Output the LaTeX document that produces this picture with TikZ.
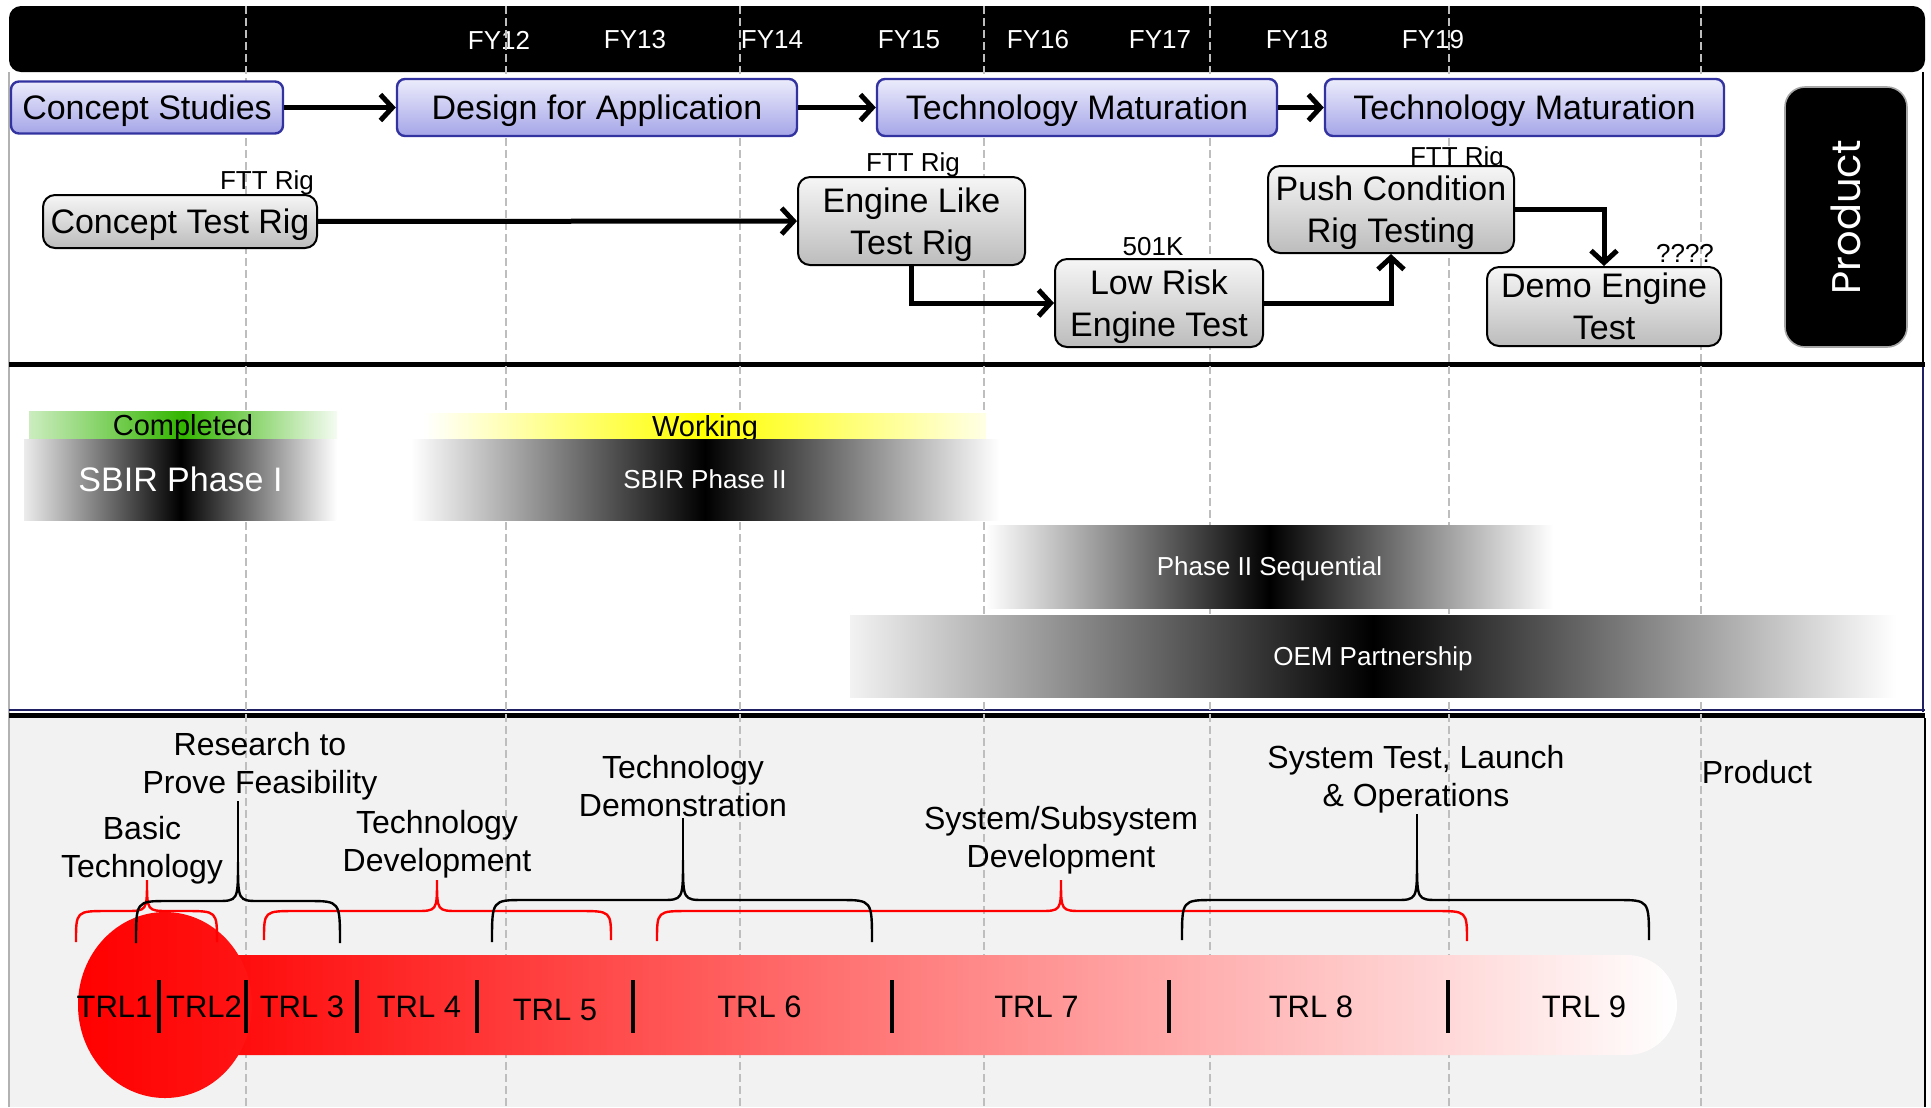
\documentclass[tikz,border=0pt]{standalone}
\usepackage{fontspec}
\setmainfont{Liberation Sans}
\newfontfamily\productfont{Poppins}
\usetikzlibrary{arrows.meta}
\usetikzlibrary{shapes}

\definecolor{phaseline}{RGB}{50,50,160}
\definecolor{phasetop}{RGB}{236,236,252}
\definecolor{phasebot}{RGB}{165,165,232}
\definecolor{rigtop}{RGB}{246,246,246}
\definecolor{rigbot}{RGB}{188,188,188}
\definecolor{navy}{RGB}{32,32,100}
\definecolor{panel}{RGB}{242,242,242}
\definecolor{gridgray}{RGB}{190,190,190}
\definecolor{donegreen}{RGB}{51,181,0}

\tikzstyle{phase}=[rectangle,rounded corners=2pt,draw=phaseline,line width=0.6pt,top color=phasetop,bottom color=phasebot,inner sep=0pt,text depth=0pt,font=\fontsize{8.5pt}{10.5pt}\selectfont]
\tikzstyle{rig}=[rectangle,rounded corners=3pt,draw=black,line width=0.5pt,top color=rigtop,bottom color=rigbot,inner sep=0pt,text depth=0pt,align=center,font=\fontsize{8.5pt}{10.5pt}\selectfont]
\tikzstyle{endbox}=[rectangle,rounded corners=5pt,draw=gray!70,fill=black,text=white,inner sep=0pt,font=\productfont\fontsize{10pt}{12pt}\selectfont]
\tikzstyle{tag}=[inner sep=0pt,font=\fontsize{6.5pt}{7.5pt}\selectfont]
\tikzstyle{year}=[inner sep=0pt,text=white,font=\fontsize{6.5pt}{7.5pt}\selectfont]
\tikzstyle{band}=[rectangle,inner sep=0pt,text depth=0pt,text=white,font=\fontsize{6.5pt}{7.5pt}\selectfont]
\tikzstyle{status}=[rectangle,inner sep=0pt,text depth=0pt,font=\fontsize{7.25pt}{8pt}\selectfont]
\tikzstyle{stage}=[inner sep=0pt,align=center,font=\fontsize{8pt}{9.5pt}\selectfont]
\tikzstyle{trl}=[inner sep=0pt,font=\fontsize{7.75pt}{9pt}\selectfont]
\tikzstyle{trlsep}=[line width=1pt]
\tikzstyle{gridline}=[gridgray,line width=0.5pt,dash pattern=on 2pt off 1pt]
\tikzstyle{bracer}=[red,line width=0.6pt]
\tikzstyle{bracek}=[black,line width=0.6pt]
\tikzstyle{arrow}=[-{Straight Barb[length=3pt,width=6.5pt]},line width=1.25pt]

% curly brace: style, left x, tip x, right x, foot y, flat y, tip y
\newcommand{\trlbrace}[7]{%
  \draw[#1] (#2,#5) .. controls (#2,#6) .. ({#2+32},#6) -- ({#3-22},#6)
    .. controls (#3,#6) .. (#3,#7) .. controls (#3,#6) .. ({#3+22},#6)
    -- ({#4-32},#6) .. controls (#4,#6) .. (#4,#5);}

\begin{document}
\begin{tikzpicture}[x=0.25pt,y=-0.25pt]
    \useasboundingbox (0,0) rectangle (1931,1107);
    \fill[panel] (9,718) rectangle (1925,1107);
    \fill[black,rounded corners=3pt] (9,6) rectangle (1925,72);
    \foreach \x/\yr in {499/12,635/13,772/14,909/15,1038/16,1160/17,1297/18,1433/19}
      \node[year] (fy\yr) at (\x,40) {FY\yr};
    % frames
    \draw[gray!60,line width=0.4pt] (9,72) -- (9,1107);
    \draw[line width=0.5pt] (1923,72) -- (1923,364);
    \draw[navy,line width=0.6pt] (1923,364) -- (1923,712);
    \draw[line width=0.5pt] (1925,718) -- (1925,1107);
    \draw[line width=1.25pt] (9,364.5) -- (1925,364.5);
    \draw[navy,line width=0.5pt] (9,710) -- (1925,710);
    \draw[line width=1.25pt] (9,715.5) -- (1925,715.5);
    \foreach \x in {246,506,740,984,1210,1449,1701}
      \draw[gridline] (\x,6) -- (\x,1107);

    % programme phases
    \node[phase,minimum width=68pt,minimum height=13pt] at (147,107.5) (cs) {Concept Studies};
    \node[phase,minimum width=100pt,minimum height=14.25pt] at (597,107.5) (dfa) {Design for Application};
    \node[phase,minimum width=100pt,minimum height=14.25pt] at (1077,107.5) (tm1) {Technology Maturation};
    \node[phase,minimum width=99.75pt,minimum height=14.25pt] at (1524.5,107.5) (tm2) {Technology Maturation};
    \draw[arrow] (cs) -- (dfa);
    \draw[arrow] (dfa) -- (tm1);
    \draw[arrow] (tm1) -- (tm2);

    % rigs and tests
    \node[tag] at (267,183) (ftt1) {FTT Rig};
    \node[tag] at (913,165) (ftt2) {FTT Rig};
    \node[tag] at (1457,159) (ftt3) {FTT Rig};
    \node[tag] at (1153,247) (cost) {501K};
    \node[tag] at (1685,253) (tbd) {????};
    \node[rig,minimum width=68.5pt,minimum height=13.25pt] at (180,221.5) (ctr) {Concept Test Rig};
    \node[rig,minimum width=56.75pt,minimum height=22pt] at (911.5,221) (elr) {Engine Like\\Test Rig};
    \node[rig,minimum width=52pt,minimum height=22pt] at (1159,303) (lret) {Low Risk\\Engine Test};
    \node[rig,minimum width=61.5pt,minimum height=21.75pt] at (1391,209.5) (pcrt) {Push Condition\\Rig Testing};
    \node[rig,minimum width=58.5pt,minimum height=19.75pt] at (1604,306.5) (det) {Demo Engine\\Test};
    \draw[arrow] (ctr) -- (elr);
    \draw[arrow] (elr.south) |- (lret.west);
    \draw[arrow] (lret.east) -| (pcrt.south);
    \draw[arrow] (pcrt.east) -| (det.north);
    \node[endbox,rotate=90,minimum width=65pt,minimum height=30.5pt] at (1846,217) (prod) {Product};

    % funding
    \node[status,minimum width=77pt,minimum height=7pt,left color=donegreen!25,right color=donegreen!5,middle color=donegreen] at (183,425) (done) {Completed};
    \node[band,minimum width=78.25pt,minimum height=20.25pt,left color=gray!15,right color=white,middle color=black,font=\fontsize{8.5pt}{10pt}\selectfont] at (180.5,479.5) (sbir1) {SBIR Phase I};
    \node[status,minimum width=140.5pt,minimum height=6.5pt,left color=white,right color=yellow!10,middle color=yellow] at (705,426) (wip) {Working};
    \node[band,minimum width=147pt,minimum height=20.25pt,left color=white,right color=white,middle color=black] at (705,479.5) (sbir2) {SBIR Phase II};
    \node[band,minimum width=141.75pt,minimum height=20.75pt,left color=white,right color=white,middle color=black] at (1269.5,566.5) (seq) {Phase II Sequential};
    \node[band,minimum width=261.5pt,minimum height=20.5pt,left color=gray!10,right color=white,middle color=black] at (1373,656) (oem) {OEM Partnership};

    % readiness levels
    \shade[left color=red,right color=white,rounded corners=12.5pt] (165,955) rectangle (1677,1055);
    \shade[left color=red,right color=red!92!white] (165,1005) ellipse [x radius=21.75pt,y radius=23.25pt];
    \foreach \x in {159,246,357,477,633,892,1169,1448}
      \draw[trlsep] (\x,980) -- (\x,1033);
    \foreach \x/\y/\t [count=\i] in {114.5/1007/TRL1,204/1007/TRL2,302/1007/TRL 3,419/1007/TRL 4,555/1010/TRL 5,
        759.5/1007/TRL 6,1036.5/1007/TRL 7,1311/1007/TRL 8,1584/1007/TRL 9}
      \node[trl] (trl\i) at (\x,\y) {\t};

    \node[stage] at (142,850) (basic) {Basic\\Technology};
    \node[stage] at (260,766) (research) {Research to\\Prove Feasibility};
    \node[stage] at (437,844) (techdev) {Technology\\Development};
    \node[stage] at (683,786) (techdemo) {Technology\\Demonstration};
    \node[stage] at (1061,840) (sysdev) {System/Subsystem\\Development};
    \node[stage] at (1416,779) (systest) {System Test, Launch\\\& Operations};
    \node[stage] at (1757,772) (product) {Product};

    \trlbrace{bracer}{76}{147}{217}{942}{911}{880}
    \trlbrace{bracer}{264}{437}{611}{940}{911}{880}
    \trlbrace{bracer}{657}{1061}{1467}{941}{911}{880}
    \trlbrace{bracek}{136}{238}{340}{943}{901}{862}
    \trlbrace{bracek}{492}{683}{872}{942}{900}{860}
    \trlbrace{bracek}{1182}{1417}{1649}{940}{900}{860}
    \coordinate (cusp2) at (238,862);
    \coordinate (cusp4) at (683,860);
    \coordinate (cusp6) at (1417,860);
    \draw[bracek] (cusp2) -- (research.south -| cusp2);
    \draw[bracek] (cusp4) -- (techdemo.south -| cusp4);
    \draw[bracek] (cusp6) -- (systest.south -| cusp6);
\end{tikzpicture}
\end{document}
